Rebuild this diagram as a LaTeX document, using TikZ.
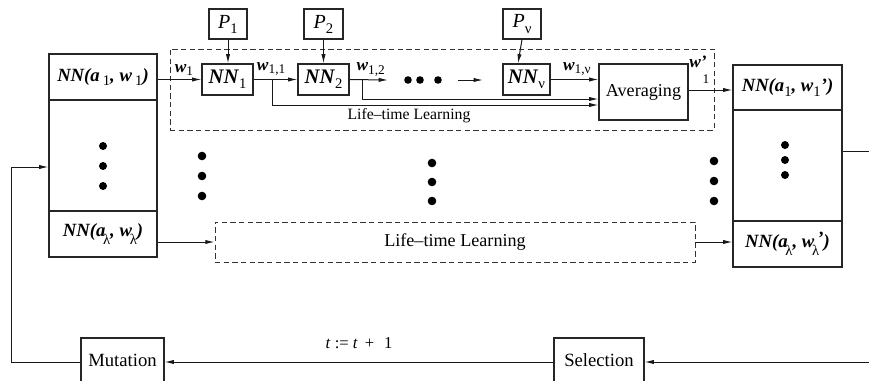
\documentclass[tikz,border=0pt]{standalone}
\usepackage{fontspec}
\setmainfont{Liberation Serif}
\usetikzlibrary{arrows.meta,fit}
% bold italic and lowered index helpers
\newcommand\bi[1]{\textbf{\textit{#1}}}
\newcommand\sbx[1]{\raisebox{-0.55ex}{\fontsize{11}{11}\selectfont #1}}
\newcommand\sbl[1]{\raisebox{-0.95ex}{\fontsize{11}{11}\selectfont #1}}
\newcommand\sbw[1]{\raisebox{-0.45ex}{\fontsize{10}{10}\selectfont #1}}
\begin{document}
\begin{tikzpicture}[x=0.75pt,y=-0.75pt,
  box/.style={draw=black!85, line width=0.8pt, inner sep=0pt},
  dbox/.style={draw=black!80, line width=0.6pt, dash pattern=on 4pt off 2.5pt, inner sep=0pt},
  conn/.style={line width=0.75pt, draw=black!90},
  arr/.style={conn, -{Latex[length=7pt,width=3.2pt]}},
  cellfont/.style={font=\fontsize{14}{16}\selectfont},
  nnfont/.style={font=\fontsize{15.5}{17}\selectfont},
  txtfont/.style={font=\fontsize{13.6}{16}\selectfont},
  wfont/.style={font=\fontsize{13}{14}\selectfont}]
\clip (0,0) rectangle (869,380);

% population before learning
\node[box, fit={(49,54)(157,100)}] (L1) {};
\node[cellfont] (L1t) at (L1.center) {\bi{NN(a}\,\sbx{1}\bi{, w}\,\sbx{1}\bi{)}};
\node[box, fit={(49,100)(157,211)}] (Lmid) {};
\node[box, fit={(49,211)(157,257)}] (L2) {};
\node[cellfont] (L2t) at (L2.center) {\bi{NN(a}\kern-.12em\sbl{λ}\bi{, w}\kern-.12em\sbl{λ}\bi{)}};
\foreach \yy in {146,166,186} \fill (103,\yy) circle (4);

% population after learning
\node[box, fit={(733,65)(842,110)}] (R1) {};
\node[cellfont] (R1t) at (R1.center) {\bi{NN(a}\sbx{1}\bi{, w}\sbx{1}\bi{’)}};
\node[box, fit={(733,110)(842,221)}] (Rmid) {};
\node[box, fit={(733,221)(842,267)}] (R2) {};
\node[cellfont] (R2t) at (R2.center) {\bi{NN(a}\kern-.12em\sbl{λ}\bi{, w}\kern-.12em\sbl{λ}\kern-.1em\raisebox{.3ex}{\bi{’}}\bi{)}};
\foreach \yy in {145,160,175} \fill (785,\yy) circle (4);

% columns of dots between the two populations
\foreach \xx/\ya/\yb/\yc in {202/156/176/196, 432/163/182/201, 714/161/181/201}
  \foreach \yy in {\ya,\yb,\yc} \fill (\xx,\yy) circle (4.3);

% life-time learning of the first individual
\node[dbox, fit={(170,49)(714,130)}] (LTtop) {};
\node[font=\fontsize{11.8}{13}\selectfont] (LTtoptxt) at (409,116) {Life--time Learning};

\node[box, fit={(209,9)(247,39)}] (P1) {};
\node[box, fit={(304,9)(343,39)}] (P2) {};
\node[box, fit={(503,9)(541,39)}] (Pn) {};
\node[font=\fontsize{15}{16}\selectfont] (P1t) at (P1.center) {\textit{P}\sbx{1}};
\node[font=\fontsize{15}{16}\selectfont] (P2t) at (P2.center) {\textit{P}\sbx{2}};
\node[font=\fontsize{15}{16}\selectfont] (Pnt) at (Pn.center) {\textit{P}\sbx{ν}};

\node[box, fit={(202,64)(253,95)}] (NN1) {};
\node[box, fit={(298,64)(349,95)}] (NN2) {};
\node[box, fit={(503,64)(550,95)}] (NNn) {};
\node[box, fit={(599,64)(688,120)}] (Avg) {};
\node[nnfont] (NN1t) at (NN1.center) {\bi{NN}\sbx{1}};
\node[nnfont] (NN2t) at (NN2.center) {\bi{NN}\sbx{2}};
\node[nnfont] (NNnt) at (NNn.center) {\bi{NN}\sbx{ν}};
\node[txtfont] (Avgt) at (Avg.center) {Averaging};

\draw[arr] (P1.south) -- (P1.south |- NN1.north);
\draw[arr] (P2.south) -- (P2.south |- NN2.north);
\draw[arr] (Pn.south) -- ([xshift=-3pt]Pn.south |- NNn.north);

\draw[arr] (L1.east |- NN1.west) -- node[wfont, pos=0.6, above, yshift=-1pt] (w1) {\bi{w}\sbw{1}} (NN1.west);
\draw[arr] (NN1.east) -- node[wfont, pos=0.4, above, yshift=-1pt] (w11) {\bi{w}\sbw{1,1}} (NN2.west);
\coordinate (dotsin) at (388,80);
\draw[arr] (NN2.east) -- node[wfont, pos=0.55, above, yshift=-1pt] (w12) {\bi{w}\sbw{1,2}} (dotsin);
\foreach \xx in {408,420,438} \fill (\xx,80) circle (3.8);
\coordinate (ga) at (458,80);
\coordinate (gb) at (483,80);
\draw[arr] (ga) -- (gb);
\draw[arr] (NNn.east) -- node[wfont, pos=0.55, above, yshift=-1pt] (w1n) {\bi{w}\sbw{1,ν}} (Avg.west |- NNn.east);

% branches from the intermediate weights into the averaging
\coordinate (b1) at (272,80);
\coordinate (b2) at (362,80);
\draw[arr] (b1) -- (b1 |- 0,105) -- (Avg.west |- 0,105);
\draw[arr] (b2) -- (b2 |- 0,99) -- (Avg.west |- 0,99);

\draw[arr] (Avg.east |- 0,90) -- (R1.west |- 0,90);
\node[wfont, inner sep=0] (wp) at (698,62) {\bi{w’}};
\node[font=\fontsize{10}{10}\selectfont, inner sep=0] (wpi) at (706,79) {1};

% life-time learning of the last individual
\node[dbox, fit={(215,222)(695,262)}] (LTbot) {};
\node[txtfont] (LTbott) at (LTbot.center) {Life--time Learning};
\draw[arr] (L2.east |- LTbot.west) -- (LTbot.west);
\draw[arr] (LTbot.east) -- (R2.west |- LTbot.east);

% evolutionary loop
\node[box, fit={(81,338)(164,386)}] (Mut) {};
\node[box, fit={(554,338)(644,386)}] (Sel) {};
\node[font=\fontsize{14}{16}\selectfont] (Mutt) at ([yshift=1.5pt]Mut.center) {Mutation};
\node[font=\fontsize{14}{16}\selectfont] (Selt) at ([yshift=1.5pt]Sel.center) {Selection};
\coordinate (inR) at (869,362);
\coordinate (outR) at (869,151);
\coordinate (fb) at (11,167);
\draw[conn] (Rmid.east |- outR) -- (outR);
\draw[arr] (inR) -- (Sel.east);
\draw[arr] (Sel.west) -- node[above, yshift=6pt, font=\fontsize{12.5}{14}\selectfont] (tinc) {\textit{t} := \textit{t}\, +\,\, 1} (Mut.east);
\draw[arr] (Mut.west) -| (fb) -- (fb -| Lmid.west);
\end{tikzpicture}
\end{document}
